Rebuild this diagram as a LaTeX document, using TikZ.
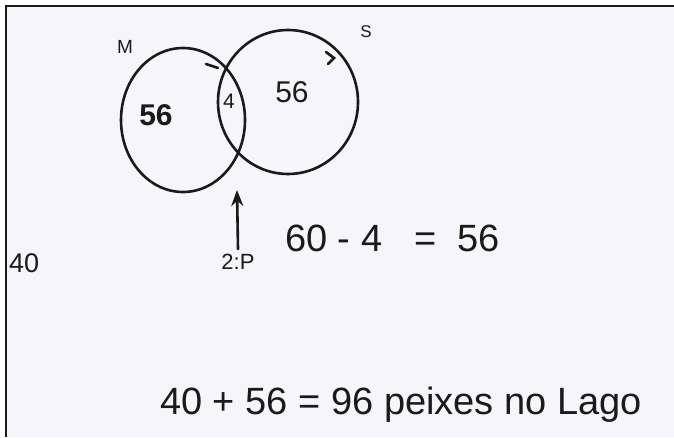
\documentclass[tikz,border=0pt]{standalone}
\usepackage{fontspec}
\setmainfont{Liberation Sans}
\usetikzlibrary{arrows.meta,positioning,calc}
\definecolor{paper}{HTML}{F6F5FB}
\definecolor{ink}{HTML}{1A1A1A}
\newcommand{\fsz}[1]{\fontsize{#1}{#1}\selectfont}
\tikzset{
  pen/.style={draw=ink,line width=2.6pt,line cap=round},
  hand/.style={text=ink,inner sep=0pt},
  ar/.style={pen,-{Stealth[length=16pt,width=12pt,open]}},
}
\begin{document}
\begin{tikzpicture}[x=1pt,y=-1pt]
\useasboundingbox (0,0) rectangle (674,437);
\clip (0,0) rectangle (674,437);
% sheet and frame
\fill[paper] (6,6) rectangle (674,437);
\draw[ink,line width=1.6pt] (674,6) -- (6,6) -- (6,437);
% the two sets
\draw[pen] (183,120) ellipse [x radius=62,y radius=72];
\draw[pen] (288,102) ellipse [x radius=70,y radius=72];
\draw[pen] (206,64) -- (218,68);
\draw[pen] (326,52) -- (334,58) -- (328,64);
\node[hand,font=\fsz{19}] (setM) at (125,47) {M};
\node[hand,font=\fsz{17}] (setS) at (366,32) {S};
\node[hand,font=\bfseries\fsz{30}] (onlyM) at (156,115) {56};
\node[hand,font=\fsz{21}] (both) at (229,101) {4};
\node[hand,font=\fsz{30}] (onlyS) at (292,92) {56};
% pointer to the middle
\node[hand,font=\fsz{22}] (tag) at (238,262) {2:P};
\coordinate (tip) at (237,190);
\draw[ar] (tag.north) ++(0,-5) -- (tip);
% sums
\node[hand,font=\fsz{27},anchor=west] (forty) at (9,263) {40};
\node[hand,font=\fsz{38},anchor=west] (diff) at (285,238) {60 - 4 \ \ = \ 56};
\node[hand,font=\fsz{38},anchor=west] (total) at (160,405) {40 + 56 = 96 peixes no Lago};
\end{tikzpicture}
\end{document}
